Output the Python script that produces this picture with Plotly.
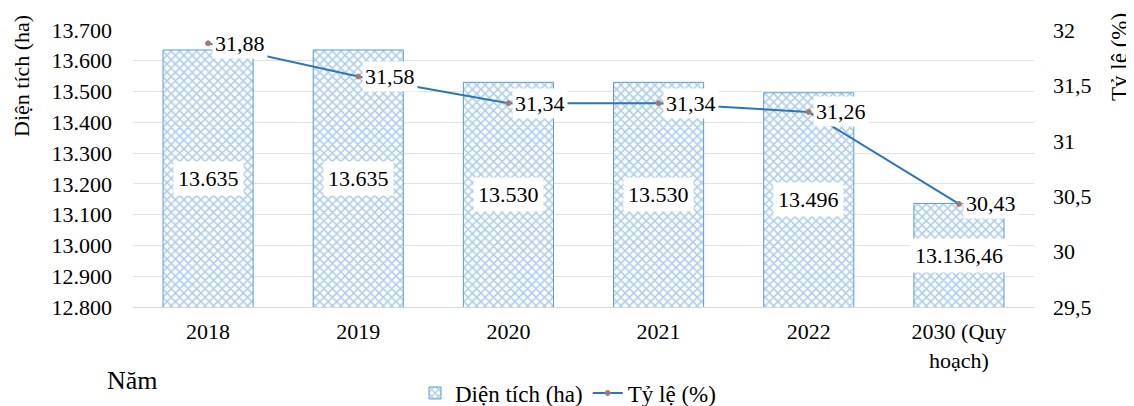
import plotly.graph_objects as go

years = ["2018", "2019", "2020", "2021", "2022", "2030 (Quy<br>hoạch)"]
area_ha = [13635, 13635, 13530, 13530, 13496, 13136.46]
area_labels = ["13.635", "13.635", "13.530", "13.530", "13.496", "13.136,46"]
ratio_pct = [31.88, 31.58, 31.34, 31.34, 31.26, 30.43]
ratio_labels = ["31,88", "31,58", "31,34", "31,34", "31,26", "30,43"]

AREA_MIN, AREA_MAX = 12800, 13700
RATIO_MIN, RATIO_MAX = 29.5, 32

FONT = "Liberation Serif, Times New Roman, serif"
FS = 22
BAR_BLUE = "#5B9BD5"
LINE_BLUE = "#2E75B6"

# page body has an 8px margin: shrink the figure and shift layout accordingly
OFF = 8
W, H = 1134 - OFF, 406 - OFF
ML, MR, MT, MB = 133 - OFF, 100, 30 - OFF, 99
pw, ph = W - ML - MR, H - MT - MB

fig = go.Figure()
fig.add_trace(go.Bar(
    x=years, y=area_ha, name="Diện tích (ha)",
    marker=dict(color="white", line=dict(color=BAR_BLUE, width=1),
                pattern=dict(shape="x", fgcolor=BAR_BLUE, bgcolor="white",
                             size=6, solidity=0.45)),
    yaxis="y",
))
fig.add_trace(go.Scatter(
    x=years, y=ratio_pct, name="Tỷ lệ (%)", mode="lines+markers",
    line=dict(color=LINE_BLUE, width=2),
    marker=dict(size=5, color="#7f7f9f", line=dict(color="#d07a4a", width=1)),
    yaxis="y2",
))

annotations = []
for i, (v, t) in enumerate(zip(area_ha, area_labels)):
    annotations.append(dict(
        x=i, y=(v + AREA_MIN) / 2, xref="x", yref="y", text=t, showarrow=False,
        font=dict(family=FONT, size=FS, color="black"), bgcolor="white", borderpad=4,
    ))
for i, (v, t) in enumerate(zip(ratio_pct, ratio_labels)):
    annotations.append(dict(
        x=i, y=v, xref="x", yref="y2", text=t, showarrow=False, xanchor="left",
        xshift=4, font=dict(family=FONT, size=FS, color="black"), bgcolor="white",
        borderpad=2,
    ))
# pixel positions given in reference (page) coordinates
pix = [
    (21, 76, "Diện tích (ha)", -90, 22),
    (1119, 57, "Tỷ lệ (%)", -90, 23),
    (132, 380, "Năm", 0, 26),
]
for px, py, t, ang, fs in pix:
    fx, fy = px - OFF, py - OFF
    annotations.append(dict(
        x=(fx - ML) / pw, y=(H - MB - fy) / ph, xref="paper", yref="paper",
        xanchor="center", yanchor="middle",
        text=t, textangle=ang, showarrow=False,
        font=dict(family=FONT, size=fs, color="black"),
    ))

fig.update_layout(
    width=W, height=H, margin=dict(l=ML, r=MR, t=MT, b=MB, autoexpand=False),
    paper_bgcolor="white", plot_bgcolor="white",
    separators=",.",
    font=dict(family=FONT, size=FS, color="black"),
    bargap=0.4,
    showlegend=True,
    legend=dict(orientation="h", x=(568 - OFF - ML) / pw, xanchor="center",
                y=(H - MB - (393 - OFF)) / ph, yanchor="middle",
                font=dict(family=FONT, size=23), tracegroupgap=0),
    xaxis=dict(type="category", range=[-0.5, len(years) - 0.5], showgrid=False,
               showline=True, linecolor="#d9d9d9", ticks="", ticklabelstandoff=5,
               tickfont=dict(family=FONT, size=FS)),
    yaxis=dict(range=[AREA_MIN, AREA_MAX], dtick=100, tickformat=",d",
               showgrid=True, gridcolor="#e3e3e3", zeroline=False, showline=False,
               ticklabelstandoff=20, tickfont=dict(family=FONT, size=FS)),
    yaxis2=dict(range=[RATIO_MIN, RATIO_MAX], dtick=0.5, overlaying="y", side="right",
                showgrid=False, zeroline=False, showline=False, ticklabelstandoff=18,
                tickfont=dict(family=FONT, size=FS)),
    annotations=annotations,
)

fig.write_html("out.html")
